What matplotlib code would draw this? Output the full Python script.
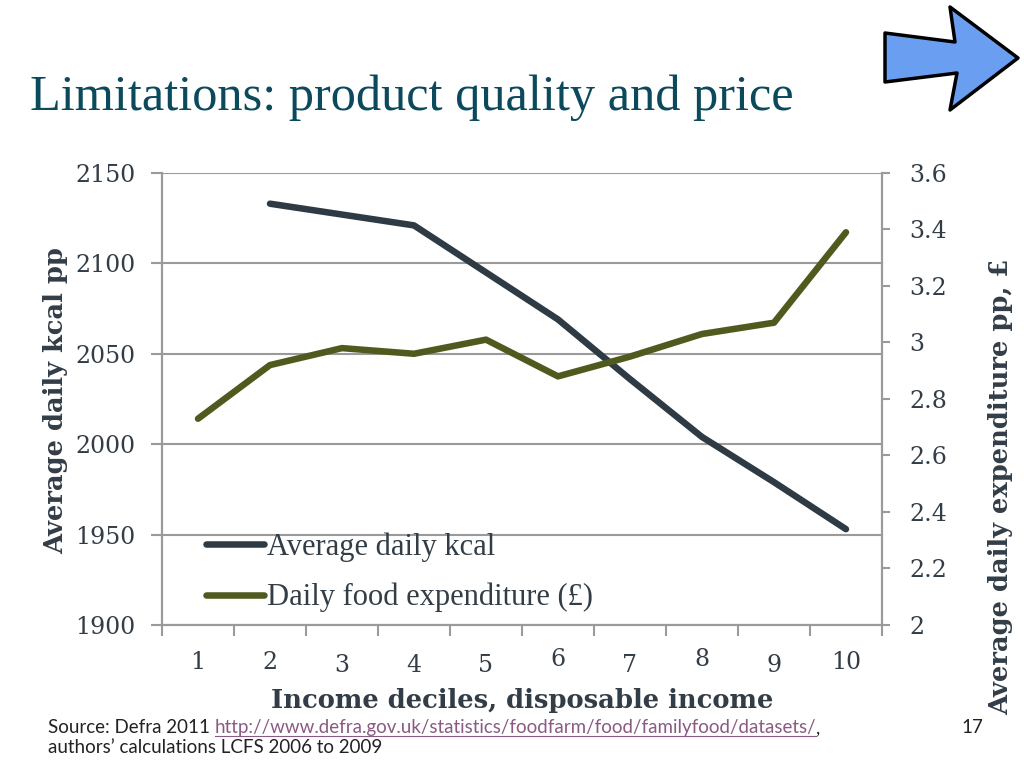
import matplotlib
matplotlib.use("Agg")
import matplotlib.pyplot as plt
from matplotlib.patches import Polygon
from matplotlib.lines import Line2D
from matplotlib.transforms import ScaledTranslation
import numpy as np

# data
deciles = [1, 2, 3, 4, 5, 6, 7, 8, 9, 10]
kcal = [np.nan, 2133, 2127, 2121, 2095, 2069, 2036, 2004, 1979, 1953]
spend = [2.73, 2.92, 2.98, 2.96, 3.01, 2.88, 2.95, 3.03, 3.07, 3.39]
left_ticks = [1900, 1950, 2000, 2050, 2100, 2150]
right_ticks = [2, 2.2, 2.4, 2.6, 2.8, 3, 3.2, 3.4, 3.6]
right_labels = ["2", "2.2", "2.4", "2.6", "2.8", "3", "3.2", "3.4", "3.6"]

kcal_col = "#2e3a44"
spend_col = "#4f5a1e"
grey = "#9a9a9a"
text_col = "#333d47"
narrow = ["Liberation Serif", "DejaVu Serif"]
wide = ["DejaVu Serif"]
plt.rcParams["font.family"] = narrow

fig = plt.figure(figsize=(10.24, 7.66), dpi=100)
ax = fig.add_axes([0.1582, 0.1841, 0.7031, 0.5901])
ax2 = ax.twinx()

l1, = ax.plot(deciles, kcal, color=kcal_col, lw=4.7, solid_capstyle="round",
              label="Average daily kcal")
l2, = ax2.plot(deciles, spend, color=spend_col, lw=4.7, solid_capstyle="round",
               label="Daily food expenditure (£)")

ax.set_xlim(0.5, 10.5)
ax.set_ylim(1900, 2150)
ax2.set_ylim(2, 3.6)

ax.set_yticks(left_ticks)
ax.set_yticklabels([str(v) for v in left_ticks], family=wide)
ax2.set_yticks(right_ticks)
ax2.set_yticklabels(right_labels, family=wide)

ax.set_xticks(np.arange(0.5, 11, 1))
ax.set_xticklabels([])
ax.set_xticks(deciles, minor=True)
ax.set_xticklabels([str(d) for d in deciles], minor=True, family=wide)
ax.tick_params(axis="x", which="major", direction="out", length=8, color=grey, width=1.5)
ax.tick_params(axis="x", which="minor", length=0, pad=19, labelsize=17, labelcolor=text_col)
ax.tick_params(axis="y", direction="out", length=8, color=grey, width=1.5,
               pad=11, labelsize=17, labelcolor=text_col)
ax2.tick_params(axis="y", direction="out", length=6, color=grey, width=1.5,
                pad=14, labelsize=17, labelcolor=text_col)

# old-style figures sit at different heights on the slide
shift = {"3": -3, "4": -3, "5": -3, "7": -3, "9": -3, "6": 3, "8": 3}
for lab, d in zip(ax.get_xticklabels(minor=True), deciles):
    dy = shift.get(str(d), 0) / 100
    lab.set_transform(lab.get_transform() + ScaledTranslation(0, dy, fig.dpi_scale_trans))

ax.grid(axis="y", color=grey, lw=1.5)
for a in (ax, ax2):
    for s in a.spines.values():
        s.set_color(grey)
        s.set_linewidth(1.5)
    a.spines["top"].set_visible(False)

ax.set_ylabel("Average daily kcal pp", fontsize=18.5, fontweight="bold",
              color=text_col, family=wide)
ax.yaxis.set_label_coords(-0.1306, 0.496)
ax2.set_ylabel("Average daily expenditure pp, £", fontsize=18.5, fontweight="bold",
               color=text_col, rotation=90, family=wide)
ax2.yaxis.set_label_coords(1.147, 0.305)
ax.set_xlabel("Income deciles, disposable income", fontsize=18.6, fontweight="bold",
              color=text_col, family=wide)
ax.xaxis.set_label_coords(0.5, -0.139)

ax2.legend(handles=[l1, l2], loc="lower left", bbox_to_anchor=(0.023, -0.033),
           frameon=False, fontsize=22, handlelength=1.9, handletextpad=0.1,
           labelspacing=0.68, labelcolor=text_col)

# title
fig.text(30 / 1024, 1 - 110 / 766, "Limitations: product quality and price",
         fontsize=36.3, color="#0b4a5c", va="baseline", ha="left")

# arrow in corner
arrow_px = [(885, 33), (955, 42), (950, 7), (1018, 58), (950, 110), (957, 73), (885, 82)]
arrow = Polygon([(x / 1024, 1 - y / 766) for x, y in arrow_px], closed=True,
                transform=fig.transFigure, facecolor="#6a9ef0", edgecolor="black",
                lw=2.5, joinstyle="round")
fig.patches.append(arrow)

# footer
sans = ["Lato", "DejaVu Sans"]
fs = 13.5
t1 = fig.text(48 / 1024, 1 - 733 / 766, "Source: Defra 2011 ", fontsize=fs,
              family=sans, color="#222222", va="baseline")
fig.canvas.draw()
r = fig.canvas.get_renderer()
bb = t1.get_window_extent(r)
t2 = fig.text(bb.x1 / 1024, 1 - 733 / 766,
              "http://www.defra.gov.uk/statistics/foodfarm/food/familyfood/datasets/",
              fontsize=fs, family=sans, color="#8a5a82", va="baseline")
bb2 = t2.get_window_extent(r)
fig.lines.append(Line2D([bb2.x0 / 1024, bb2.x1 / 1024], [1 - 736 / 766] * 2,
                        transform=fig.transFigure, color="#8a5a82", lw=0.8))
fig.text(bb2.x1 / 1024, 1 - 733 / 766, ",", fontsize=fs, family=sans,
         color="#222222", va="baseline")
fig.text(48 / 1024, 1 - 753 / 766, "authors’ calculations LCFS 2006 to 2009",
         fontsize=fs, family=sans, color="#222222", va="baseline")
fig.text(972 / 1024, 1 - 733 / 766, "17", fontsize=fs, family=sans,
         color="#222222", va="baseline", ha="center")

fig.savefig("out.png", dpi=100)
